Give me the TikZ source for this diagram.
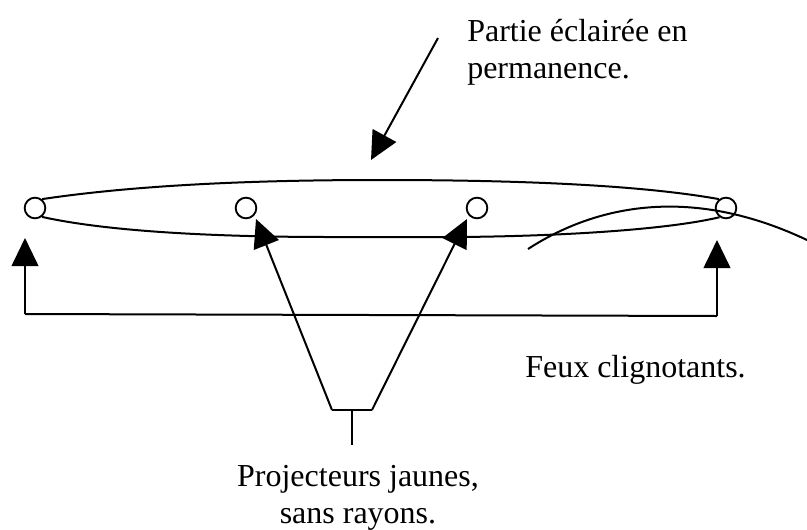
\documentclass[tikz,border=0pt]{standalone}
\usepackage{fontspec}
\setmainfont{Liberation Serif}
\usetikzlibrary{arrows.meta,positioning}

\begin{document}
\begin{tikzpicture}[
    x=0.75pt, y=-0.75pt,
    >={Triangle[length=21pt, width=20pt]},
    feu/.style={circle, draw, line width=1.4pt, minimum size=15.5pt, inner sep=0pt},
    trait/.style={line width=1.5pt},
    arrow/.style={->, line width=1.5pt},
    legende/.style={font=\fontsize{24}{27.75}\selectfont, align=left, inner sep=0pt},
]
\useasboundingbox (0,0) rectangle (807,529);

\node[feu] (F1) at (35,208) {};
\node[feu] (F2) at (246,208) {};
\node[feu] (F3) at (477,208) {};
\node[feu] (F4) at (726,208) {};

\node[legende, anchor=north west] (partie) at (467,19) {Partie éclairée en\\permanence.};
\node[legende, anchor=base west] (feux) at (525,377) {Feux clignotants.};
\node[legende, align=center, anchor=north] (proj) at (358,465) {Projecteurs jaunes,\\sans rayons.};

\coordinate (haut) at (380,180);
\coordinate (bas1) at (330,237);
\coordinate (bas2) at (460,237);
\draw[trait] (F1.52) .. controls (150,183) and (280,180) .. (haut)
    .. controls (520,180) and (640,185) .. (F4.128);
\draw[trait] (F1.-52) .. controls (110,232) and (220,237) .. (bas1) -- (bas2)
    .. controls (570,236) and (670,229) .. (F4.-125);

% fil
\coordinate (filA) at (528,249);
\coordinate (filB) at (807,240);
\draw[trait] (filA) .. controls (585,212) and (680,180) .. (filB);

% fleche du haut
\coordinate (partieA) at (438,38);
\coordinate (partieB) at (371,160);
\draw[arrow] (partieA) -- (partieB);

% feux clignotants
\coordinate (cligA) at (25,238);
\coordinate (cligB) at (25,314);
\coordinate (cligC) at (717,316);
\coordinate (cligD) at (717,240);
\draw[arrow] (cligB) -- (cligA);
\draw[arrow] (cligC) -- (cligD);
\draw[trait] (cligB) -- (cligC);

% projecteurs
\coordinate (projA) at (332,410);
\coordinate (projB) at (372,410);
\coordinate (projC) at (352,410);
\coordinate (projD) at (352,445);
\coordinate (projE) at (256,219);
\coordinate (projF) at (467,219);
\draw[trait] (projA) -- (projB);
\draw[trait] (projC) -- (projD);
\draw[arrow] (projA) -- (projE);
\draw[arrow] (projB) -- (projF);
\end{tikzpicture}
\end{document}
